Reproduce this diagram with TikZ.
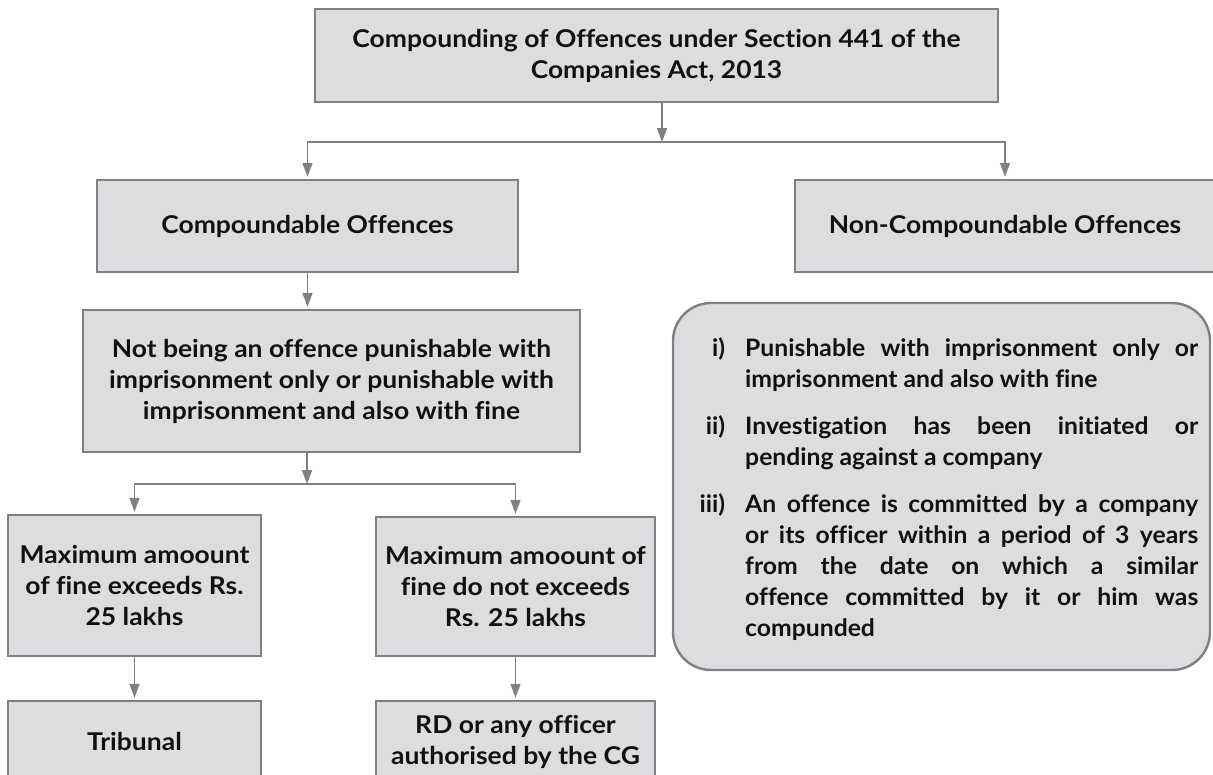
\documentclass[tikz,border=0pt]{standalone}
\usepackage{fontspec}
\setmainfont{Lato}[FakeStretch=1.08, Ligatures=NoCommon]
\newfontfamily\listfont{Lato}[FakeStretch=1.03, Ligatures=NoCommon]
\usetikzlibrary{arrows.meta,calc}
\definecolor{boxfill}{HTML}{DCDDDE}
\definecolor{boxline}{HTML}{7F8083}
\definecolor{txt}{HTML}{111111}
\begin{document}
\begin{tikzpicture}[x=1pt,y=-1pt,
  txtfont/.style={font=\fontsize{24.5}{31}\selectfont\bfseries, text=txt},
  box/.style={draw=boxline, fill=boxfill, line width=2.4pt, align=center, txtfont, inner sep=0pt},
  conn/.style={draw=boxline, line width=1.6pt},
  arr/.style={conn, -{Triangle[length=14pt,width=10pt]}, shorten >=2pt}]
\useasboundingbox (0,0) rectangle (1213,774);
\begin{scope}
\clip (0,0) rectangle (1213,774);
\node[box, minimum width=683pt, minimum height=93pt] (top) at (656.5,55.5)
  {Compounding of Offences under Section 441 of the\\Companies Act, 2013};
\node[box, minimum width=421pt, minimum height=92pt] (comp) at (307.5,226)
  {Compoundable Offences};
\node[box, minimum width=420pt, minimum height=92pt] (noncomp) at (1005,226)
  {Non-Compoundable Offences};
\node[box, minimum width=497pt, minimum height=142pt] (notbeing) at (331.5,381)
  {Not being an offence punishable with\\imprisonment only or punishable with\\imprisonment and also with fine};
\node[box, minimum width=253pt, minimum height=141pt] (maxL) at (134.5,585.5)
  {Maximum amoount\\of fine exceeds Rs.\\25 lakhs};
\node[box, minimum width=279pt, minimum height=139pt] (maxR) at (515.5,586.5)
  {Maximum amoount of\\fine do not exceeds\\Rs. 25 lakhs};
\node[box, minimum width=253pt, minimum height=81pt] (trib) at (134.5,741.5)
  {Tribunal};
\node[box, minimum width=279pt, minimum height=81pt] (rd) at (515.5,741.5)
  {RD or any officer\\authorised by the CG};
\node[draw=boxline, fill=boxfill, line width=2.4pt, rounded corners=38pt,
  minimum width=537pt, minimum height=367pt, inner sep=0pt] (rbox) at (941.5,486.5) {};
\node[font=\fontsize{24}{31}\listfont\bfseries, text=txt, text width=453pt, align=justify, anchor=north west, inner sep=0pt] (list) at (745,337)
  {\parskip=16pt
   \noindent\llap{i)\hspace{20pt}}Punishable with imprisonment only or\linebreak imprisonment and also with fine\par
   \noindent\llap{ii)\hspace{20pt}}Investigation has been initiated or\linebreak pending against a company\par
   \noindent\llap{iii)\hspace{20pt}}An offence is committed by a company\linebreak or its officer within a period of 3 years\linebreak from the date on which a similar\linebreak offence committed by it or him was\linebreak compunded\par};
\coordinate (j1) at (662,142);
\coordinate (j2) at (307,484);
\draw[arr, shorten >=0pt] (top.south -| j1) -- (j1);
\draw[arr] (j1) -| (comp.north);
\draw[arr] (j1) -| (noncomp.north);
\draw[arr] (comp.south) -- (notbeing.north -| comp.south);
\draw[arr, shorten >=0pt] (notbeing.south -| j2) -- (j2);
\draw[arr] (j2) -| (maxL.north);
\draw[arr] (j2) -| (maxR.north);
\draw[arr] (maxL.south) -- (trib.north);
\draw[arr] (maxR.south) -- (rd.north);
\end{scope}
\end{tikzpicture}
\end{document}
